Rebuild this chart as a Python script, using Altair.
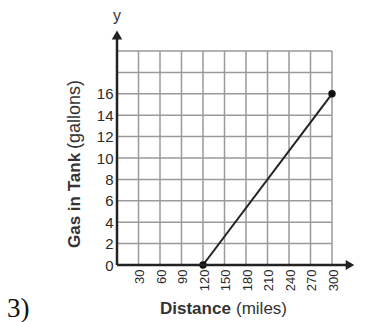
import altair as alt
import pandas as pd

# Data
distance = [120, 300]
gas = [0, 16]
x_grid_values = [0, 30, 60, 90, 120, 150, 180, 210, 240, 270, 300]
y_grid_values = [0, 2, 4, 6, 8, 10, 12, 14, 16, 18, 20]
x_label_values = [30, 60, 90, 120, 150, 180, 210, 240, 270, 300]
y_label_values = [0, 2, 4, 6, 8, 10, 12, 14, 16]
x_title_bold = "Distance"
x_title_rest = "(miles)"
y_title_bold = "Gas in Tank"
y_title_rest = "(gallons)"
problem_label = "3)"

W, H = 215, 214
FONT = "Liberation Sans"
INK = "#222222"
GRID = "#9a9a9a"
LABEL = "#2a2a2a"

df = pd.DataFrame({"distance": distance, "gas": gas})
gx = pd.DataFrame({"gx": x_grid_values})
gy = pd.DataFrame({"gy": y_grid_values})
one = pd.DataFrame({"k": [0]})

xs = alt.Scale(domain=[0, 300], nice=False, zero=True)
ys = alt.Scale(domain=[0, 20], nice=False, zero=True)

x_axis = alt.Axis(values=x_label_values, labelAngle=270, labelPadding=4, tickCount=10,
                  labelFontSize=13, labelFont=FONT, labelColor=LABEL, labelOffset=1,
                  labelOverlap=False, labelFlush=False, grid=False, title=None)
y_axis = alt.Axis(values=y_label_values, labelPadding=4, tickCount=9,
                  labelFontSize=15, labelFont=FONT, labelColor=LABEL,
                  labelOverlap=False, labelFlush=False, grid=False, title=None)

grid_v = alt.Chart(gx).mark_rule(color=GRID, strokeWidth=1.5).encode(
    x=alt.X("gx:Q", scale=xs, axis=x_axis),
    y=alt.datum(0, type="quantitative", scale=ys, axis=y_axis),
    y2=alt.datum(20),
)
grid_h = alt.Chart(gy).mark_rule(color=GRID, strokeWidth=1.5).encode(
    y=alt.Y("gy:Q", scale=ys, axis=y_axis),
    x=alt.datum(0, type="quantitative", scale=xs, axis=x_axis),
    x2=alt.datum(300),
)

line = alt.Chart(df).mark_line(color=INK, strokeWidth=2).encode(
    x=alt.X("distance:Q", scale=xs, axis=x_axis),
    y=alt.Y("gas:Q", scale=ys, axis=y_axis))
pts = alt.Chart(df).mark_point(filled=True, color="#111", size=55, opacity=1).encode(
    x=alt.X("distance:Q", scale=xs, axis=x_axis),
    y=alt.Y("gas:Q", scale=ys, axis=y_axis))

deco = alt.Chart(one)
y_axis_line = deco.mark_rule(color=INK, strokeWidth=2.5).encode(
    x=alt.value(0), y=alt.value(H), y2=alt.value(-12))
x_axis_line = deco.mark_rule(color=INK, strokeWidth=2.5).encode(
    x=alt.value(0), x2=alt.value(230), y=alt.value(H))
y_arrow = deco.mark_point(shape="triangle-up", filled=True, color=INK, size=110, opacity=1).encode(
    x=alt.value(0), y=alt.value(-16))
x_arrow = deco.mark_point(shape="triangle-right", filled=True, color=INK, size=100, opacity=1).encode(
    x=alt.value(233), y=alt.value(H))

def txt(s, x, y, size=17, weight="normal", align="left", baseline="alphabetic",
        angle=0, font=FONT, color="#333"):
    return deco.mark_text(text=s, fontSize=size, fontWeight=weight, align=align,
                          baseline=baseline, angle=angle, font=font, color=color).encode(
        x=alt.value(x), y=alt.value(y))

texts = [
    txt(x_title_bold, 43, 263, weight="bold"),
    txt(x_title_rest, 119, 263),
    txt(y_title_bold, -37, 197, weight="bold", angle=270),
    txt(y_title_rest, -37, 98, size=18, angle=270),
    txt("y", 0, -35, size=16, align="center", baseline="middle"),
    txt("x", 245, H, size=16, align="center", baseline="middle"),
    txt(problem_label, -110, 266, size=27, font="Liberation Serif", color="#111"),
]

chart = alt.layer(grid_v, grid_h, line, pts, y_axis_line, x_axis_line, y_arrow, x_arrow, *texts).properties(
    width=W, height=H,
    autosize=alt.AutoSizeParams(type="none"),
    padding={"left": 109, "top": 43, "right": 26, "bottom": 57},
).configure_view(stroke=None).configure_axis(
    domain=False, ticks=False,
)

chart.save("out.html", embed_options={"renderer": "svg", "actions": False})
